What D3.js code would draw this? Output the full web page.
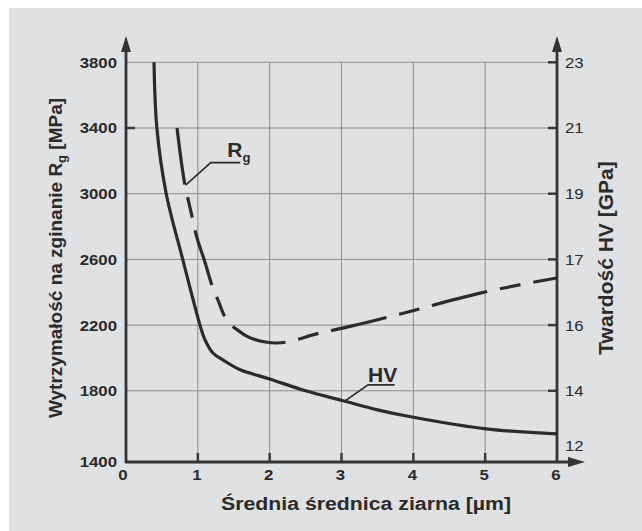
<!DOCTYPE html>
<html>
<head>
<meta charset="utf-8">
<script src="https://cdn.jsdelivr.net/npm/d3@7"></script>
<style>
  body { margin: 0; background: #ffffff; }
  text { font-family: "Liberation Sans", Arial, sans-serif; fill: #2b2b2b; }
</style>
</head>
<body>
<svg></svg>
<script>
// chart size
let width = 642,
  height = 531;

// data
let xTicks = [0, 1, 2, 3, 4, 5, 6];
let rgTicks = [1400, 1800, 2200, 2600, 3000, 3400, 3800];
// right axis is not linear: HV labels sit on the Rg gridlines
let hvTicks = [12, 14, 16, 17, 19, 21, 23];
let hvTickAtRg = [1464, 1800, 2200, 2600, 3000, 3400, 3800];

// Rg curve (dashed), grain size [um] / MPa
let rgSize = [0.71, 0.82, 0.86, 0.93, 0.97, 1.09, 1.21, 1.28, 1.35, 1.59, 1.94, 2.1, 2.7, 3.15, 3.82, 4.93, 6.0];
let rgValue = [3400, 3053, 2974, 2840, 2761, 2596, 2426, 2353, 2274, 2158, 2097, 2091, 2152, 2195, 2268, 2395, 2487];

// HV curve (solid), grain size [um] / GPa
let hvSize = [0.39, 0.43, 0.56, 0.79, 1.03, 1.10, 1.21, 1.35, 1.59, 2.0, 2.5, 3.02, 3.5, 4.0, 5.01, 6.0];
let hvValue = [23, 21, 19, 17, 16, 15.55, 15.15, 14.94, 14.64, 14.36, 14.0, 13.64, 13.31, 13.04, 12.62, 12.44];

let svg = d3.select("svg").attr("width", width).attr("height", height);

// scales
let x = d3.scaleLinear().domain([0, 6]).range([126, 557]);
let yL = d3.scaleLinear().domain([1400, 3800]).range([456.5, 62.3]);
let yR = d3.scaleLinear().domain(hvTicks).range(hvTickAtRg.map(yL));
let axisY = 462;
let stretch = 1.12; // lettering in the original is a bit wider than Arial

// grey panel
svg.append("rect")
  .attr("x", 9).attr("y", 8)
  .attr("width", width - 9).attr("height", height - 8)
  .attr("fill", "#e0e1e3");

// grid
let grid = svg.append("g").attr("stroke", "#8c8c8c").attr("stroke-width", 1);
grid.selectAll("line.h")
  .data(rgTicks.slice(1))
  .enter()
  .append("line")
  .attr("x1", x(0)).attr("x2", x(6))
  .attr("y1", (d) => yL(d)).attr("y2", (d) => yL(d));
grid.selectAll("line.v")
  .data(xTicks.slice(1, 6))
  .enter()
  .append("line")
  .attr("x1", (d) => x(d)).attr("x2", (d) => x(d))
  .attr("y1", axisY).attr("y2", yL(3800));

// ticks (inside)
let ticks = svg.append("g").attr("stroke", "#3a3a3a").attr("stroke-width", 2.5);
ticks.selectAll("line.xt")
  .data(xTicks.slice(1, 6))
  .enter()
  .append("line")
  .attr("x1", (d) => x(d)).attr("x2", (d) => x(d))
  .attr("y1", axisY).attr("y2", axisY - 9);
ticks.selectAll("line.rt")
  .data(hvTicks.slice(1))
  .enter()
  .append("line")
  .attr("x1", x(6)).attr("x2", x(6) - 9)
  .attr("y1", (d) => yR(d)).attr("y2", (d) => yR(d));
ticks.append("line")
  .attr("x1", x(0)).attr("x2", x(0) + 9)
  .attr("y1", yL(3400)).attr("y2", yL(3400));

// axes with arrows
let axes = svg.append("g").attr("stroke", "#333").attr("stroke-width", 2.8).attr("fill", "none");
axes.append("line").attr("x1", x(0)).attr("x2", x(0)).attr("y1", axisY + 1).attr("y2", 46);
axes.append("line").attr("x1", x(6)).attr("x2", x(6)).attr("y1", axisY + 1).attr("y2", 46);
axes.append("line").attr("x1", x(0) - 1).attr("x2", 575).attr("y1", axisY).attr("y2", axisY);

let arrows = svg.append("g").attr("fill", "#333");
[x(0), x(6)].forEach((ax) => {
  arrows.append("path").attr("d", `M${ax},36 L${ax - 5},52 L${ax + 5},52 Z`);
});
arrows.append("path").attr("d", `M585,${axisY} L568,${axisY - 5} L568,${axisY + 5} Z`);

// tick labels
let labels = svg.append("g").attr("font-size", 15);
labels.selectAll("text.l")
  .data(rgTicks)
  .enter()
  .append("text")
  .attr("transform", (d) => `translate(${x(0) - 9},${d === 1400 ? axisY : yL(d)}) scale(${stretch},1)`)
  .attr("dy", "0.36em")
  .attr("text-anchor", "end")
  .attr("font-weight", "bold")
  .text((d) => d);
labels.selectAll("text.r")
  .data(hvTicks)
  .enter()
  .append("text")
  .attr("transform", (d) => `translate(${x(6) + 8},${yR(d)}) scale(${stretch},1)`)
  .attr("dy", "0.36em")
  .text((d) => d);
labels.selectAll("text.b")
  .data(xTicks)
  .enter()
  .append("text")
  .attr("transform", (d) => `translate(${d === 0 ? x(d) - 3 : x(d) - 1},${axisY + 18}) scale(${stretch},1)`)
  .attr("text-anchor", "middle")
  .attr("font-weight", "bold")
  .text((d) => d);

// axis titles
svg.append("text")
  .attr("transform", "translate(62,258) rotate(-90)")
  .attr("text-anchor", "middle")
  .attr("font-size", 19)
  .attr("font-weight", "bold")
  .call((t) => {
    t.append("tspan").text("Wytrzymałość na zginanie R");
    t.append("tspan").attr("font-size", 13).attr("dy", 4).text("g");
    t.append("tspan").attr("dy", -4).text(" [MPa]");
  });

svg.append("text")
  .attr("transform", "translate(613,258) rotate(-90)")
  .attr("text-anchor", "middle")
  .attr("font-size", 21)
  .attr("font-weight", "bold")
  .text("Twardość HV [GPa]");

svg.append("text")
  .attr("transform", `translate(366,510) scale(${stretch},1)`)
  .attr("text-anchor", "middle")
  .attr("font-size", 19)
  .attr("font-weight", "bold")
  .text("Średnia średnica ziarna [µm]");

// curves
let rgLine = d3.line()
  .x((d, i) => x(rgSize[i]))
  .y((d) => yL(d))
  .curve(d3.curveMonotoneX);
let hvLine = d3.line()
  .x((d, i) => x(hvSize[i]))
  .y((d) => yR(d))
  .curve(d3.curveCatmullRom.alpha(0.5));

svg.append("path")
  .attr("d", rgLine(rgValue))
  .attr("fill", "none")
  .attr("stroke", "#2b2b2b")
  .attr("stroke-width", 3.2)
  .attr("stroke-dasharray", "57,13,21,13");

svg.append("path")
  .attr("d", hvLine(hvValue))
  .attr("fill", "none")
  .attr("stroke", "#2b2b2b")
  .attr("stroke-width", 3.2);

// leader lines and curve labels
let leader = d3.line().x((d) => x(d[0])).y((d) => d[1]);
svg.append("path")
  .attr("d", leader([[0.83, yL(3052)], [1.18, yL(3189)], [1.59, yL(3189)]]))
  .attr("fill", "none").attr("stroke", "#2b2b2b").attr("stroke-width", 1.6);
svg.append("text")
  .attr("x", x(1.41)).attr("y", yL(3225))
  .attr("font-size", 21).attr("font-weight", "bold")
  .call((t) => {
    t.append("tspan").text("R");
    t.append("tspan").attr("font-size", 13).attr("dy", 5).text("g");
  });

svg.append("path")
  .attr("d", leader([[3.04, yR(13.62)], [3.37, yR(14.18)], [3.74, yR(14.18)]]))
  .attr("fill", "none").attr("stroke", "#2b2b2b").attr("stroke-width", 1.6);
svg.append("text")
  .attr("x", x(3.37)).attr("y", yR(14.18) - 3)
  .attr("font-size", 21).attr("font-weight", "bold")
  .text("HV");
</script>
</body>
</html>
